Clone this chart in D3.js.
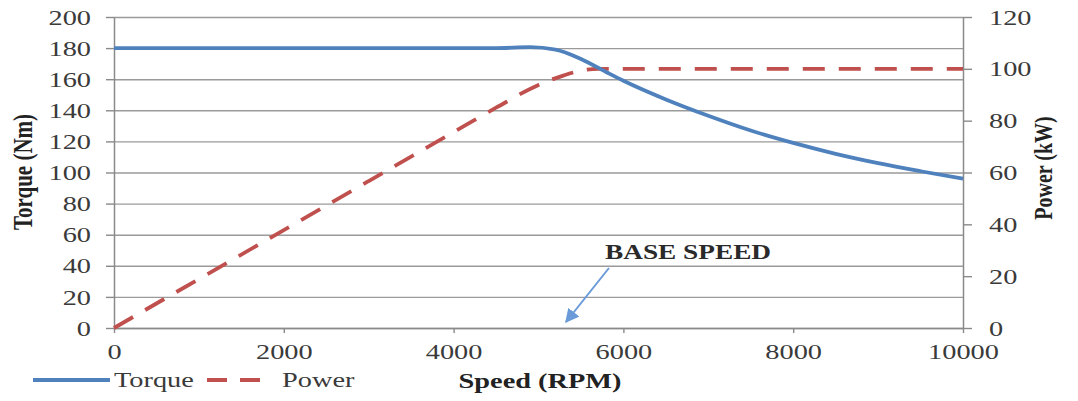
<!DOCTYPE html>
<html><head><meta charset="utf-8">
<script src="https://cdn.jsdelivr.net/npm/d3@7"></script>
<style>
html,body{margin:0;padding:0;background:#fff;}
svg{display:block;}
text{font-family:"Liberation Serif","Times New Roman",serif;}
</style></head>
<body>
<svg id="chart" width="1078" height="401"></svg>
<script>
// ---- data ----
const speedTicks = [0, 2000, 4000, 6000, 8000, 10000];
const torqueTicks = [0, 20, 40, 60, 80, 100, 120, 140, 160, 180, 200];
const powerTicks = [0, 20, 40, 60, 80, 100, 120];

const torqueSpeed = [0, 1000, 2000, 3000, 4000, 4500, 4900, 5200, 5500, 5800, 6000, 6500, 7000, 7500, 8000, 8500, 9000, 9500, 10000];
const torqueVals  = [180, 180, 180, 180, 180, 180, 180.6, 179, 173, 164.5, 159, 147, 136.5, 127, 119, 112, 106, 100.8, 96];

const powerSpeed = [0, 1000, 2000, 3000, 4000, 4500, 5000, 5300, 5500, 5700, 6000, 7000, 8000, 9000, 10000];
const powerVals  = [0, 18.9, 37.8, 56.7, 75.6, 85, 93.8, 97.5, 99.3, 100, 100, 100, 100, 100, 100];

const seriesNames = ["Torque", "Power"];
const seriesColors = ["#4f81bd", "#c0504d"];
const annotationText = "BASE SPEED";
const annotationSpeed = 5300;

// ---- layout ----
const svg = d3.select("#chart");
const L = 114, R = 963, T = 17, B = 328;
const SX = 1.35;

const x = d3.scaleLinear().domain([0, 10000]).range([L, R]);
const yT = d3.scaleLinear().domain([0, 200]).range([B, T]);
const yP = d3.scaleLinear().domain([0, 120]).range([B, T]);

// grid
svg.append("g").attr("transform", `translate(${L},0)`)
  .call(d3.axisLeft(yT).tickValues(torqueTicks).tickSize(-(R - L)).tickFormat(""))
  .call(g => g.select(".domain").remove())
  .call(g => g.selectAll("line").attr("stroke", "#9a9a9a").attr("stroke-width", 1.4));

function styleText(sel, fill) {
  sel.attr("font-family", '"Liberation Serif", serif').attr("font-size", 21).attr("fill", fill || "#3a3a3a");
}

// left axis
svg.append("g").attr("transform", `translate(${L},0)`)
  .call(d3.axisLeft(yT).tickValues(torqueTicks).tickSize(8).tickSizeOuter(0).tickPadding(0))
  .call(g => g.select(".domain").attr("stroke", "#8a8a8a").attr("stroke-width", 1.5))
  .call(g => g.selectAll("line").attr("stroke", "#8a8a8a").attr("stroke-width", 1.4))
  .call(g => g.selectAll("text").call(styleText).attr("x", -23 / SX).attr("dy", "0.34em")
        .attr("transform", `scale(${SX},1)`));

// right axis
svg.append("g").attr("transform", `translate(${R},0)`)
  .call(d3.axisRight(yP).tickValues(powerTicks).tickSize(9).tickSizeOuter(0).tickPadding(0))
  .call(g => g.select(".domain").attr("stroke", "#8a8a8a").attr("stroke-width", 1.5))
  .call(g => g.selectAll("line").attr("stroke", "#8a8a8a").attr("stroke-width", 1.4))
  .call(g => g.selectAll("text").call(styleText).attr("x", 26 / SX).attr("dy", "0.34em")
        .attr("transform", `scale(${SX},1)`));

// bottom axis
svg.append("g").attr("transform", `translate(0,${B})`)
  .call(d3.axisBottom(x).tickValues(speedTicks).tickSize(5).tickSizeOuter(0).tickFormat(d3.format("d")))
  .call(g => g.select(".domain").attr("stroke", "#8a8a8a").attr("stroke-width", 1.5))
  .call(g => g.selectAll("line").attr("stroke", "#8a8a8a").attr("stroke-width", 1.4))
  .call(g => g.selectAll("text").call(styleText).attr("y", 31).attr("dy", 0)
        .attr("transform", `scale(${SX},1)`)
        .attr("x", 0));
// fix x positions of bottom labels under scale
svg.selectAll("g").filter(function(){return false;});

// lines
const lineT = d3.line().x((d, i) => x(torqueSpeed[i])).y(d => yT(d)).curve(d3.curveMonotoneX);
const lineP = d3.line().x((d, i) => x(powerSpeed[i])).y(d => yP(d)).curve(d3.curveMonotoneX);

svg.append("path").datum(powerVals).attr("d", lineP)
  .attr("fill", "none").attr("stroke", seriesColors[1]).attr("stroke-width", 3.8)
  .attr("stroke-dasharray", "22,14");
svg.append("path").datum(torqueVals).attr("d", lineT)
  .attr("fill", "none").attr("stroke", seriesColors[0]).attr("stroke-width", 3.8);

// annotation
const defs = svg.append("defs");
defs.append("marker").attr("id", "arr").attr("viewBox", "0 0 10 10").attr("refX", 9).attr("refY", 5)
  .attr("markerWidth", 7).attr("markerHeight", 7).attr("orient", "auto-start-reverse")
  .append("path").attr("d", "M0,0 L10,5 L0,10 z").attr("fill", "#6a9bd8");
svg.append("line")
  .attr("x1", x(annotationSpeed) + 45).attr("y1", 268)
  .attr("x2", x(annotationSpeed) + 2).attr("y2", 322)
  .attr("stroke", "#6a9bd8").attr("stroke-width", 2).attr("marker-end", "url(#arr)");
svg.append("text").text(annotationText)
  .attr("transform", `translate(605,259) scale(1.3,1)`)
  .attr("font-size", 21).attr("font-weight", "bold").attr("fill", "#2a2a2a");

// axis titles
svg.append("text").text("Torque (Nm)")
  .attr("transform", `translate(32,172) scale(1.3,1) rotate(-90)`)
  .attr("text-anchor", "middle").attr("font-size", 21).attr("font-weight", "bold").attr("fill", "#222");
svg.append("text").text("Power (kW)")
  .attr("transform", `translate(1052,168) scale(1.3,1) rotate(-90)`)
  .attr("text-anchor", "middle").attr("font-size", 20).attr("font-weight", "bold").attr("fill", "#222");
svg.append("text").text("Speed (RPM)")
  .attr("transform", `translate(540,388) scale(${SX},1)`)
  .attr("text-anchor", "middle").attr("font-size", 21).attr("font-weight", "bold").attr("fill", "#222");

// legend
const lg = svg.append("g");
lg.append("line").attr("x1", 33).attr("x2", 110).attr("y1", 380).attr("y2", 380)
  .attr("stroke", seriesColors[0]).attr("stroke-width", 4);
lg.append("text").text(seriesNames[0]).attr("transform", `translate(114,387) scale(${SX},1)`)
  .attr("font-size", 21).attr("fill", "#3a3a3a");
lg.append("line").attr("x1", 207).attr("x2", 260).attr("y1", 380).attr("y2", 380)
  .attr("stroke", seriesColors[1]).attr("stroke-width", 4).attr("stroke-dasharray", "20,13");
lg.append("text").text(seriesNames[1]).attr("transform", `translate(282,387) scale(${SX},1)`)
  .attr("font-size", 21).attr("fill", "#3a3a3a");
</script>
</body></html>
